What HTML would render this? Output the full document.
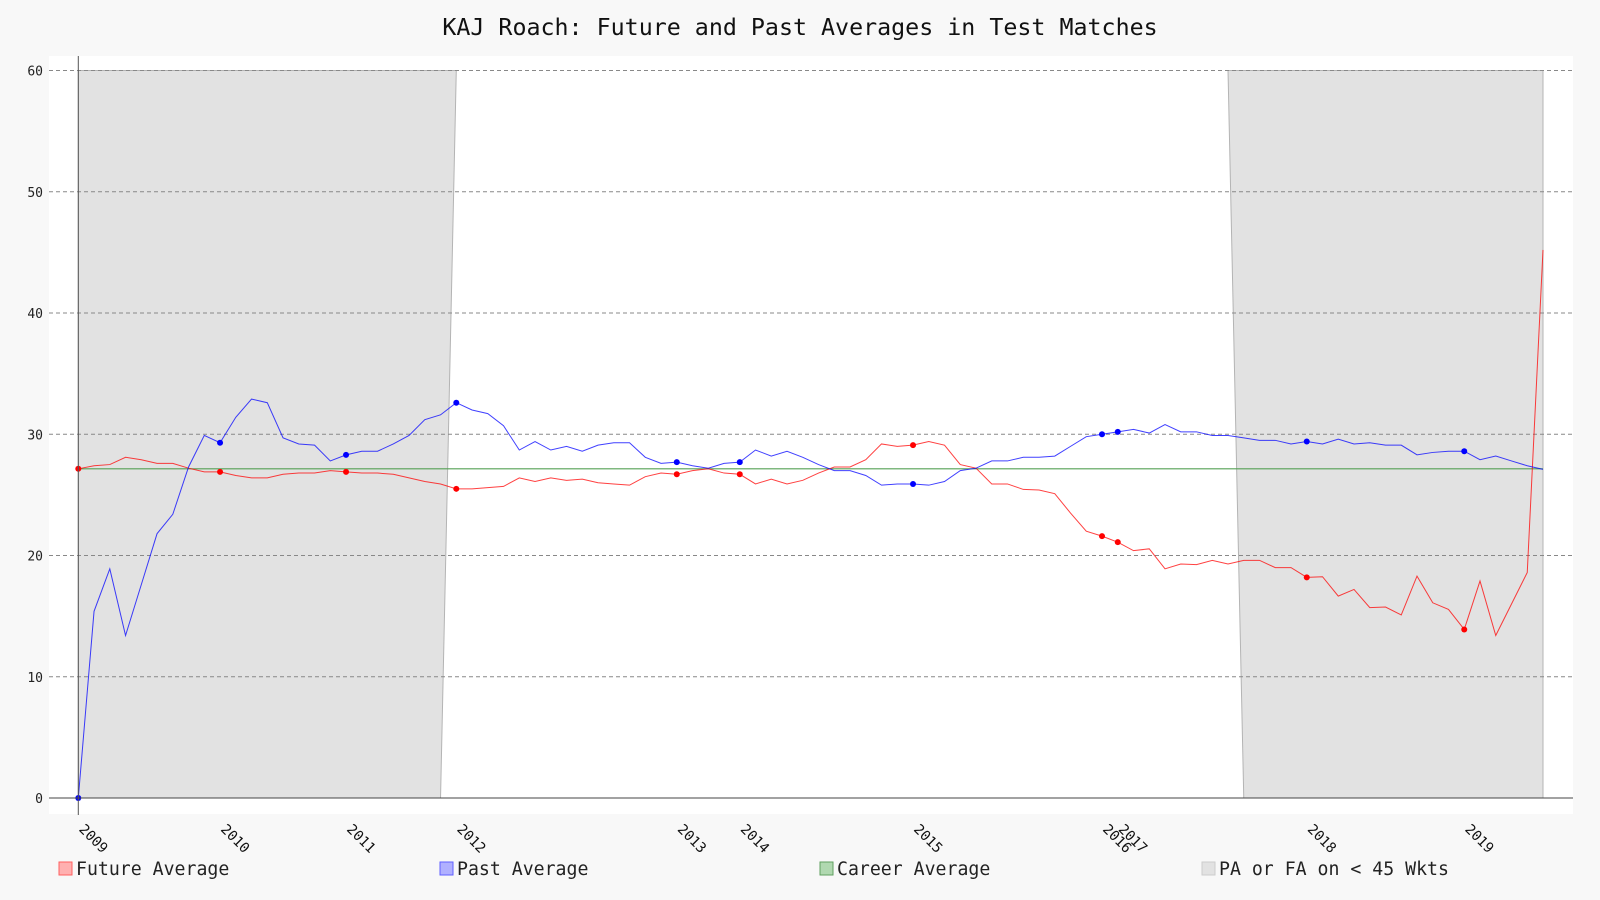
<!DOCTYPE html>
<html><head><meta charset="utf-8"><title>KAJ Roach averages</title>
<style>
html,body{margin:0;padding:0;background:#f8f8f8;}
svg{display:block;font-family:"DejaVu Sans Mono","Liberation Mono",monospace;}
</style></head>
<body>
<svg id="chart" width="1600" height="900" viewBox="0 0 1600 900" xmlns="http://www.w3.org/2000/svg">
<rect x="0" y="0" width="1600" height="900" fill="#f8f8f8"/>
<text x="800" y="35" text-anchor="middle" font-size="23.3" fill="#111">KAJ Roach: Future and Past Averages in Test Matches</text>
<rect x="49" y="56" width="1524" height="758" fill="#ffffff"/>
<g id="shade"></g>
<g id="grid"></g>
<g id="series"></g>
<g id="axes"></g>
<g id="legend">
  <rect x="59" y="862" width="13" height="13" fill="#ffb0b0" stroke="#ff6060"/>
  <text x="76" y="875" font-size="18.2" fill="#222">Future Average</text>
  <rect x="440" y="862" width="13" height="13" fill="#b0b0ff" stroke="#6060ff"/>
  <text x="457" y="875" font-size="18.2" fill="#222">Past Average</text>
  <rect x="820" y="862" width="13" height="13" fill="#b0d8b0" stroke="#60a060"/>
  <text x="837" y="875" font-size="18.2" fill="#222">Career Average</text>
  <rect x="1202" y="862" width="13" height="13" fill="#e2e2e2" stroke="#cccccc"/>
  <text x="1219" y="875" font-size="18.2" fill="#222">PA or FA on &lt; 45 Wkts</text>
</g>
</svg>
<script>
const pastAvg = [0,15.4,18.9,13.4,17.6,21.8,23.4,27.3,29.9,29.3,31.4,32.9,32.6,29.7,29.2,29.1,27.8,28.3,28.6,28.6,29.2,29.9,31.2,31.6,32.6,32.0,31.7,30.7,28.7,29.4,28.7,29.0,28.6,29.1,29.3,29.3,28.1,27.6,27.7,27.4,27.2,27.6,27.7,28.7,28.2,28.6,28.1,27.5,27.0,27.0,26.6,25.8,25.9,25.9,25.8,26.1,27.0,27.2,27.8,27.8,28.1,28.1,28.2,29.0,29.8,30.0,30.2,30.4,30.1,30.8,30.2,30.2,29.9,29.9,29.7,29.5,29.5,29.2,29.4,29.2,29.6,29.2,29.3,29.1,29.1,28.3,28.5,28.6,28.6,27.9,28.2,27.8,27.4,27.1];
const futureAvg = [27.15,27.4,27.5,28.1,27.9,27.6,27.6,27.2,26.9,26.9,26.6,26.4,26.4,26.7,26.8,26.8,27.0,26.9,26.8,26.8,26.7,26.4,26.1,25.9,25.5,25.5,25.6,25.7,26.4,26.1,26.4,26.2,26.3,26.0,25.9,25.8,26.5,26.8,26.7,27.0,27.15,26.8,26.7,25.9,26.3,25.9,26.2,26.8,27.3,27.3,27.9,29.2,29.0,29.1,29.4,29.1,27.5,27.2,25.9,25.9,25.45,25.4,25.1,23.5,22.0,21.6,21.1,20.4,20.55,18.9,19.3,19.25,19.6,19.3,19.6,19.6,19.0,19.0,18.2,18.25,16.65,17.2,15.7,15.75,15.1,18.3,16.1,15.55,13.9,17.9,13.4,16.0,18.6,45.2];
const careerAvg = 27.15;
const markerIdx = [0,9,17,24,38,42,53,65,66,78,88];
const yearLabels = ["2009","2010","2011","2012","2013","2014","2015","2016","2017","2018","2019"];
const yTicks = [0,10,20,30,40,50,60];
const shadeRanges = [[0,23],[74,93]];

const NS="http://www.w3.org/2000/svg";
const X0=78.3, X1=1543, Y0=798, Y60=70.5;
const N=pastAvg.length;
function xs(i){return X0+(X1-X0)*i/(N-1);}
function ys(v){return Y0-(Y0-Y60)*v/60;}
function mk(tag,attrs,parent){const e=document.createElementNS(NS,tag);for(const k in attrs)e.setAttribute(k,attrs[k]);parent.appendChild(e);return e;}

const shade=document.getElementById('shade');
shadeRanges.forEach(function(r){
  const a=r[0], b=r[1];
  const topStart = a===0 ? xs(0) : xs(a-1);
  const topEnd = b===N-1 ? xs(b) : xs(b+1);
  const pts=[[xs(a),ys(0)],[topStart,ys(60)],[topEnd,ys(60)],[xs(b),ys(0)]];
  const p=mk('polygon',{points:pts.map(q=>q.join(',')).join(' '),fill:'#e2e2e2',stroke:'#b4b4b4','stroke-width':1},shade);
  
  
});

const grid=document.getElementById('grid');
const axes=document.getElementById('axes');
yTicks.forEach(function(t){
  if(t>0){
    const l=mk('line',{x1:49,x2:1573,y1:ys(t),y2:ys(t),stroke:'#888','stroke-width':1,'stroke-dasharray':'4,3'},grid);
    
    
  }
  const tx=mk('text',{x:43,y:ys(t)+5,'text-anchor':'end','font-size':13,fill:'#222'},axes);
  tx.textContent=t;
  
  
});
const ax=mk('line',{x1:49,x2:1573,y1:Y0,y2:Y0,stroke:'#444','stroke-width':1},axes);


const ay=mk('line',{x1:X0,x2:X0,y1:56,y2:815,stroke:'#555','stroke-width':1},axes);


markerIdx.forEach(function(idx,k){
  const x=xs(idx);
  const t=mk('text',{x:x,y:830,'font-size':14,fill:'#111',transform:'rotate(45 '+x+' 830)'},axes);
  t.textContent=yearLabels[k];
  
  
});

const series=document.getElementById('series');
const cl=mk('line',{x1:X0,x2:X1,y1:ys(careerAvg),y2:ys(careerAvg),stroke:'#55a055','stroke-width':1.2},series);


function drawLine(arr,color,name){
  const p=mk('polyline',{points:arr.map((v,i)=>xs(i)+','+ys(v)).join(' '),fill:'none',stroke:color,'stroke-width':1,'stroke-opacity':0.75},series);
  
  
}
drawLine(futureAvg,'#ff0000','future-average-line');
drawLine(pastAvg,'#0000ff','past-average-line');
markerIdx.forEach(function(idx){
  const a=mk('circle',{cx:xs(idx),cy:ys(futureAvg[idx]),r:3,fill:'#ff0000'},series);
  
  
  const b=mk('circle',{cx:xs(idx),cy:ys(pastAvg[idx]),r:3,fill:'#0000ff'},series);
  
  
});
</script>
</body></html>
